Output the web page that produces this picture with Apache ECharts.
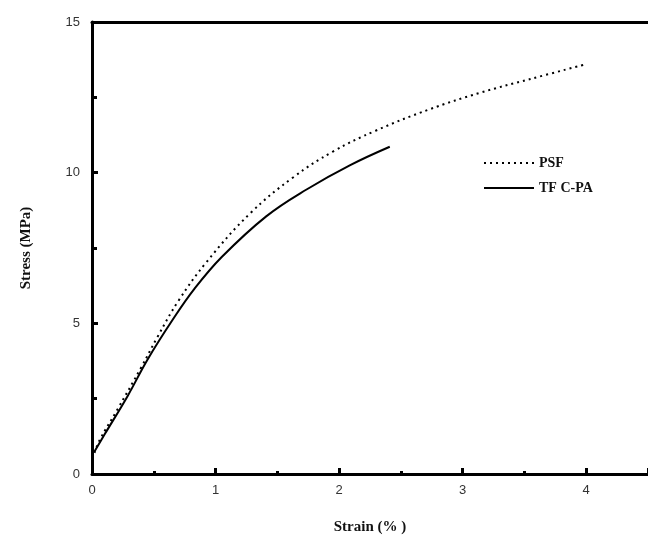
<!DOCTYPE html>
<html><head><meta charset="utf-8">
<script src="https://cdn.jsdelivr.net/npm/echarts@6/dist/echarts.min.js"></script>
<style>html,body{margin:0;padding:0;background:#fff}#c{width:648px;height:535px}</style>
</head><body><div id="c"></div>
<script>
const psfStrain = [0.02, 0.065, 0.2, 0.4, 0.53, 0.7, 0.93, 1.28, 1.63, 1.95, 2.3, 2.73, 3.14, 3.54, 4.0];
const psfStress = [0.7, 1.15, 2.1, 3.55, 4.55, 5.75, 7.05, 8.65, 9.85, 10.7, 11.4, 12.1, 12.65, 13.1, 13.6];
const tfcStrain = [0.02, 0.1, 0.29, 0.45, 0.65, 0.83, 1.05, 1.41, 1.74, 2.09, 2.41];
const tfcStress = [0.75, 1.3, 2.6, 3.8, 5.1, 6.15, 7.2, 8.55, 9.45, 10.25, 10.86];
const seriesNames = ['PSF', 'TF C-PA'];
const xTitle = 'Strain (% )';
const yTitle = 'Stress (MPa)';

const zip = (a, b) => a.map((v, i) => [v, b[i]]);
const chart = echarts.init(document.getElementById('c'));
const serif = '"Liberation Serif", "DejaVu Serif", serif';
chart.setOption({
  animation: false,
  grid: {left: 92, right: 0, top: 22, bottom: 61, containLabel: false, outerBoundsMode: 'none'},
  legend: {
    left: 478, top: 151, orient: 'vertical', itemGap: 11,
    itemWidth: 50, itemHeight: 14,
    itemStyle: {opacity: 0},
    textStyle: {fontFamily: serif, fontWeight: 'bold', fontSize: 14, color: '#111'},
    data: seriesNames
  },
  xAxis: [{
    type: 'value', min: 0, max: 4.5, interval: 1,
    name: xTitle, nameLocation: 'middle', nameGap: 46,
    nameTextStyle: {fontFamily: serif, fontWeight: 'bold', fontSize: 15, color: '#111'},
    axisLine: {lineStyle: {color: '#000', width: 3}},
    axisTick: {inside: true, length: 6, lineStyle: {color: '#000', width: 3}},
    minorTick: {show: true, splitNumber: 2, length: 3, lineStyle: {color: '#000', width: 3}},
    axisLabel: {margin: 10, fontFamily: '"Liberation Sans", Arial, sans-serif', fontSize: 13, color: '#333', showMaxLabel: false},
    splitLine: {show: false}
  }, {
    type: 'value', position: 'top', min: 0, max: 4.5,
    axisLine: {show: true, lineStyle: {color: '#000', width: 3}},
    axisTick: {show: false}, axisLabel: {show: false}, splitLine: {show: false}
  }],
  yAxis: {
    type: 'value', min: 0, max: 15, interval: 5,
    name: yTitle, nameLocation: 'middle', nameGap: 58,
    nameTextStyle: {fontFamily: serif, fontWeight: 'bold', fontSize: 15, color: '#111'},
    axisLine: {show: true, lineStyle: {color: '#000', width: 3}},
    axisTick: {show: true, inside: true, length: 6, lineStyle: {color: '#000', width: 3}},
    minorTick: {show: true, splitNumber: 2, length: 5, lineStyle: {color: '#000', width: 3}},
    axisLabel: {margin: 12, fontFamily: '"Liberation Sans", Arial, sans-serif', fontSize: 13, color: '#333'},
    splitLine: {show: false}
  },
  series: [{
    name: seriesNames[0], type: 'line', smooth: 0.4, showSymbol: false, symbol: 'none',
    data: zip(psfStrain, psfStress), color: '#000',
    lineStyle: {color: '#000', width: 2, type: [2, 4]}
  }, {
    name: seriesNames[1], type: 'line', smooth: 0.4, showSymbol: false, symbol: 'none',
    data: zip(tfcStrain, tfcStress), color: '#000',
    lineStyle: {color: '#000', width: 2, type: 'solid'}
  }]
});
</script></body></html>
